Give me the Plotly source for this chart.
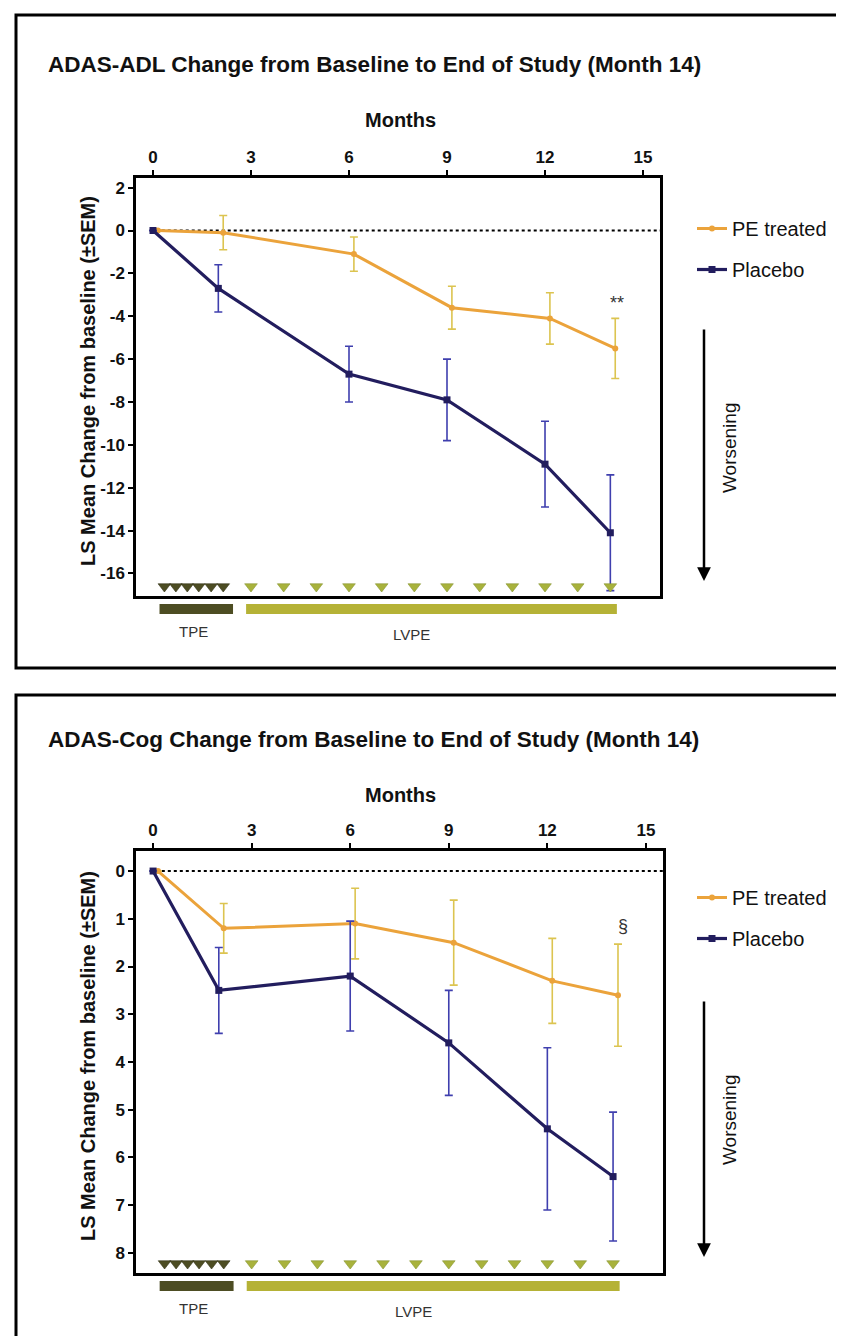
import plotly.graph_objects as go

# ---------------- data ----------------
months = [0, 2, 6, 9, 12, 14]
x_ticks = [0, 3, 6, 9, 12, 15]
x_tick_labels = ["0", "3", "6", "9", "12", "15"]

adl_pe = [0, -0.1, -1.1, -3.6, -4.1, -5.5]
adl_pe_sem = [0, 0.8, 0.8, 1.0, 1.2, 1.4]
adl_pl = [0, -2.7, -6.7, -7.9, -10.9, -14.1]
adl_pl_sem = [0, 1.1, 1.3, 1.9, 2.0, 2.7]
adl_y_ticks = [2, 0, -2, -4, -6, -8, -10, -12, -14, -16]
adl_y_tick_labels = ["2", "0", "-2", "-4", "-6", "-8", "-10", "-12", "-14", "-16"]

cog_pe = [0, 1.2, 1.1, 1.5, 2.3, 2.6]
cog_pe_sem = [0, 0.52, 0.74, 0.89, 0.89, 1.07]
cog_pl = [0, 2.5, 2.2, 3.6, 5.4, 6.4]
cog_pl_sem = [0, 0.9, 1.15, 1.1, 1.7, 1.35]
cog_y_ticks = [0, 1, 2, 3, 4, 5, 6, 7, 8]
cog_y_tick_labels = ["0", "1", "2", "3", "4", "5", "6", "7", "8"]

tpe_months = [0.35, 0.7, 1.05, 1.4, 1.78, 2.15]
lvpe_months = [3, 4, 5, 6, 7, 8, 9, 10, 11, 12, 13, 14]
phase_names = ["TPE", "LVPE"]
phase_start = [0.2, 2.85]
phase_end = [2.45, 14.2]

titles = ["ADAS-ADL Change from Baseline to End of Study (Month 14)",
          "ADAS-Cog Change from Baseline to End of Study (Month 14)"]
series_names = ["PE treated", "Placebo"]
sig_marks = ["**", "§"]
sig_x = [14.2, 14.3]
sig_y = [-3.4, 1.15]

# ---------------- style ----------------
W, H = 844, 1336
FONT = "Liberation Sans, Arial, sans-serif"
PE_LINE = "#eba33b"
PE_ERR = "#dcc450"
PL_LINE = "#221d5e"
PL_ERR = "#3f3fae"
TPE_COL = "#4d4d23"
LVPE_COL = "#b5b236"
LVPE_TRI = "#a8b23c"
PE_DX = 0.15


def px(x):
    return x / W


def py(y):
    return 1 - y / H


fig = go.Figure()

panels = [
    dict(pe=adl_pe, pe_sem=adl_pe_sem, pl=adl_pl, pl_sem=adl_pl_sem,
         yt=adl_y_ticks, ytl=adl_y_tick_labels, yr=[-17.05, 2.45],
         top=170, bottom=588, left=128, right=652, shift=0,
         frame=(7, 660), leg_y=201, arrow=(320, 573), wors=440),
    dict(pe=cog_pe, pe_sem=cog_pe_sem, pl=cog_pl, pl_sem=cog_pl_sem,
         yt=cog_y_ticks, ytl=cog_y_tick_labels, yr=[8.42, -0.42],
         top=843, bottom=1265, left=128, right=655, shift=675,
         frame=(687, 1345), leg_y=870, arrow=(992, 1249), wors=1112),
]

xr = [-0.52, 15.52]
annotations = []
shapes = []

for i, p in enumerate(panels):
    sfx = "" if i == 0 else str(i + 1)
    xa, ya = "x" + sfx, "y" + sfx
    leg = "legend" if i == 0 else "legend2"
    unit = (p["bottom"] - p["top"]) / abs(p["yr"][1] - p["yr"][0])
    sign = 1 if p["yr"][0] < p["yr"][1] else -1
    tri_y = p["yr"][0] + sign * 9.5 / unit

    # PE treated
    fig.add_trace(go.Scatter(
        x=[m + PE_DX for m in months], y=p["pe"], mode="lines+markers",
        name=series_names[0], xaxis=xa, yaxis=ya, legend=leg, legendgroup="pe",
        line=dict(color=PE_LINE, width=3),
        marker=dict(symbol="circle", size=6, color=PE_LINE),
        error_y=dict(type="data", array=p["pe_sem"], color=PE_ERR, thickness=1.6, width=4),
    ))
    # Placebo
    fig.add_trace(go.Scatter(
        x=months, y=p["pl"], mode="lines+markers",
        name=series_names[1], xaxis=xa, yaxis=ya, legend=leg, legendgroup="pl",
        line=dict(color=PL_LINE, width=3.2),
        marker=dict(symbol="square", size=7, color=PL_LINE),
        error_y=dict(type="data", array=p["pl_sem"], color=PL_ERR, thickness=1.6, width=4),
    ))
    # dosing triangles
    fig.add_trace(go.Scatter(
        x=tpe_months, y=[tri_y] * len(tpe_months), mode="markers", showlegend=False,
        xaxis=xa, yaxis=ya, hoverinfo="skip",
        marker=dict(symbol="triangle-down", size=11, color=TPE_COL,
                    line=dict(color="#333318", width=0.6)),
    ))
    fig.add_trace(go.Scatter(
        x=lvpe_months, y=[tri_y] * len(lvpe_months), mode="markers", showlegend=False,
        xaxis=xa, yaxis=ya, hoverinfo="skip",
        marker=dict(symbol="triangle-down", size=11, color=LVPE_TRI,
                    line=dict(color="#869632", width=0.6)),
    ))

    dom_x = [px(p["left"]), px(p["right"])]
    dom_y = [py(p["bottom"]), py(p["top"])]
    axis_common = dict(showline=True, linecolor="black", linewidth=2.5, mirror=True,
                       ticks="outside", ticklen=5, tickwidth=2, tickcolor="black",
                       showgrid=False, zeroline=False,
                       tickfont=dict(family=FONT, size=17, color="#111", weight="bold"))
    fig.update_layout(**{
        "xaxis" + sfx: dict(domain=dom_x, range=xr, side="top", anchor=ya,
                            tickvals=x_ticks, ticktext=x_tick_labels, **axis_common),
        "yaxis" + sfx: dict(domain=dom_y, range=p["yr"], anchor=xa,
                            tickvals=p["yt"], ticktext=p["ytl"], **axis_common),
    })

    # dotted zero line
    shapes.append(dict(type="line", xref=xa, yref=ya, x0=-0.1, x1=xr[1], y0=0, y1=0,
                       line=dict(color="black", width=2, dash="dot"), layer="below"))

    # phase bars under the axis
    cols = [TPE_COL, LVPE_COL]
    for k in range(len(phase_names)):
        shapes.append(dict(type="rect", xref=xa, yref="paper",
                           x0=phase_start[k], x1=phase_end[k],
                           y0=py(p["bottom"] + 18), y1=py(p["bottom"] + 8),
                           fillcolor=cols[k], line=dict(width=0)))
        annotations.append(dict(xref=xa, yref="paper",
                                x=(phase_start[k] + phase_end[k]) / 2 - (0.1 if k == 0 else 0.6),
                                y=py(p["bottom"] + 35 + (0 if k == 0 else 3)),
                                xanchor="center", yanchor="middle",
                                text=phase_names[k], showarrow=False,
                                font=dict(family=FONT, size=15, color="#333")))

    # panel frame
    shapes.append(dict(type="rect", xref="paper", yref="paper",
                       x0=px(8), x1=px(W + 4), y0=py(p["frame"][1]), y1=py(p["frame"][0]),
                       line=dict(color="black", width=3)))

    # titles
    annotations.append(dict(xref="paper", yref="paper", x=px(38), y=py(56 + p["shift"]),
                            xanchor="left", yanchor="middle", text=titles[i], showarrow=False,
                            font=dict(family=FONT, size=22.5, color="#111", weight="bold")))
    annotations.append(dict(xref="paper", yref="paper", x=px(392), y=py(112 + p["shift"]),
                            xanchor="center", yanchor="middle",
                            text="Months", showarrow=False,
                            font=dict(family=FONT, size=20, color="#111", weight="bold")))
    annotations.append(dict(xref="paper", yref="paper", x=px(80),
                            y=py((p["top"] + p["bottom"]) / 2 - 6),
                            xanchor="center", yanchor="middle",
                            text="LS Mean Change from baseline (±SEM)", textangle=-90,
                            showarrow=False,
                            font=dict(family=FONT, size=20, color="#111", weight="bold")))
    # significance mark
    annotations.append(dict(xref=xa, yref=ya, x=sig_x[i], y=sig_y[i], text=sig_marks[i],
                            xanchor="center", yanchor="middle",
                            showarrow=False, font=dict(family=FONT, size=18, color="#333")))
    # worsening arrow
    annotations.append(dict(xref="paper", yref="paper", x=px(696), y=py(p["arrow"][1]),
                            ax=0, ay=-(p["arrow"][1] - p["arrow"][0]), text="",
                            showarrow=True, arrowhead=2, arrowsize=1.1, arrowwidth=2.5,
                            arrowcolor="black"))
    annotations.append(dict(xref="paper", yref="paper", x=px(721), y=py(p["wors"]),
                            xanchor="center", yanchor="middle",
                            text="Worsening", textangle=-90, showarrow=False,
                            font=dict(family=FONT, size=19, color="#111")))

legend_common = dict(font=dict(family=FONT, size=20, color="#111"), bgcolor="rgba(0,0,0,0)",
                     tracegroupgap=12, xanchor="left", yanchor="top", itemwidth=30)
fig.update_layout(
    width=W, height=H, autosize=False,
    margin=dict(l=0, r=0, t=0, b=0),
    paper_bgcolor="white", plot_bgcolor="white",
    showlegend=True,
    legend=dict(x=px(684), y=py(panels[0]["leg_y"]), **legend_common),
    legend2=dict(x=px(684), y=py(panels[1]["leg_y"]), **legend_common),
    shapes=shapes, annotations=annotations,
)

fig.write_html("out.html")
